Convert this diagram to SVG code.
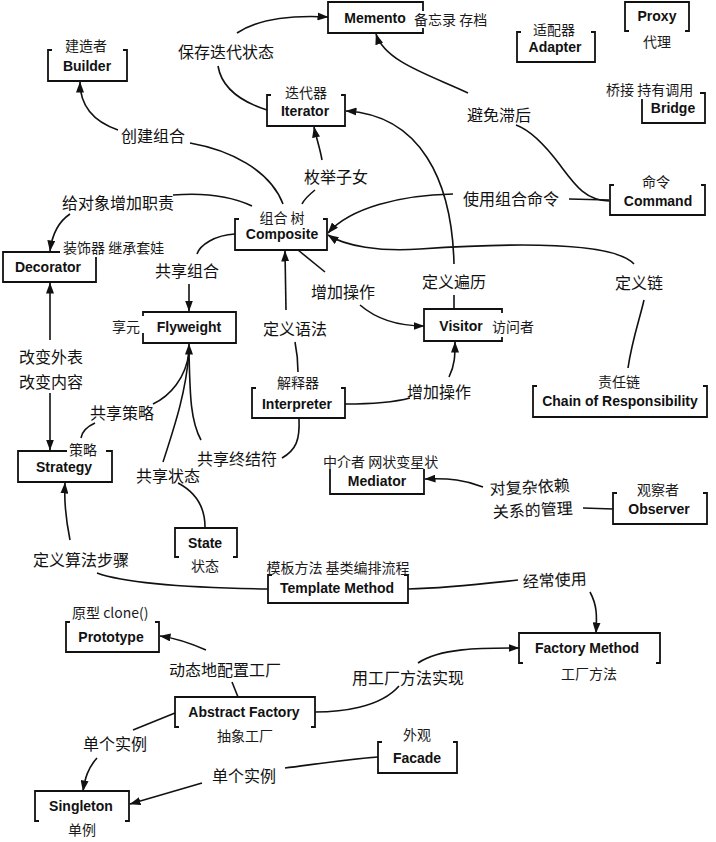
<svg xmlns="http://www.w3.org/2000/svg" width="716" height="842" viewBox="0 0 716 842">
<defs>
<style>
.box{fill:none;stroke:#111;stroke-width:1.8;stroke-linejoin:miter}
.en{font-family:'Liberation Sans',Arial,sans-serif;font-weight:bold;font-size:14px;fill:#111;text-anchor:middle}
.zh{font-family:'Noto Sans CJK SC',sans-serif;font-size:14px;fill:#1a1a1a;text-anchor:middle}
.zs{text-anchor:start}
.lb{font-family:'Noto Sans CJK SC',sans-serif;font-size:16px;fill:#111;text-anchor:middle}
.ln{fill:none;stroke:#111;stroke-width:1.6}
.ar{marker-end:url(#arr)}
</style>
<marker id="arr" markerWidth="11" markerHeight="8" refX="10.5" refY="4" orient="auto" markerUnits="userSpaceOnUse"><path d="M0,0 L11,4 L0,8 z" fill="#111"/></marker>
</defs>
<rect width="716" height="842" fill="#fff"/>

<g id="connectors">
<path class="ln" d="M218,66 C222,90 245,103 267,110"/>
<path class="ln ar" d="M237,33 C258,19 290,15 328,17"/>
<path class="ln" d="M609,201 C585,200 575,185 560,165 C545,145 530,130 516,125"/>
<path class="ln ar" d="M468,93 C430,75 385,62 376,34"/>
<path class="ln" d="M283,204 C270,170 230,150 190,143"/>
<path class="ln ar" d="M118,130 C92,121 80,105 80,82"/>
<path class="ln" d="M302,204 C305,198 310,194 315,190"/>
<path class="ln ar" d="M322,160 C320,148 316,137 314,127"/>
<path class="ln" d="M173,195 C210,192 235,198 252,206"/>
<path class="ln ar" d="M70,214 C58,222 52,235 50,251"/>
<path class="ln" d="M569,199 L609,200"/>
<path class="ln ar" d="M453,194 C400,195 350,208 328,233"/>
<path class="ln" d="M628,368 C632,340 640,318 644,300"/>
<path class="ln ar" d="M634,264 C610,238 480,245 420,249 C380,252 345,246 328,235"/>
<path class="ln" d="M298,250 L325,272"/>
<path class="ln ar" d="M360,305 C375,318 395,326 424,326"/>
<path class="ln" d="M454,309 L454,295"/>
<path class="ln ar" d="M454,264 C452,180 420,115 346,111"/>
<path class="ln" d="M298,372 C298,362 297,352 295,342"/>
<path class="ln ar" d="M286,310 L285,251"/>
<path class="ln" d="M345,404 C370,404 395,402 410,398"/>
<path class="ln ar" d="M449,377 C455,365 455,355 455,342"/>
<path class="ln ar" d="M50,340 L50,283"/>
<path class="ln ar" d="M50,393 L50,450"/>
<path class="ln" d="M235,234 C215,235 200,245 197,254"/>
<path class="ln ar" d="M189,284 L189,311"/>
<path class="ln" d="M189,352 C186,378 170,396 153,404"/>
<path class="ln" d="M189,352 C186,392 175,425 163,462"/>
<path class="ln" d="M189,352 C190,392 190,420 201,440"/>
<path class="ln ar" d="M189,354 L189,344"/>
<path class="ln" d="M95,423 C86,427 82,432 81,438"/>
<path class="ln" d="M178,483 C195,492 205,505 205,527"/>
<path class="ln" d="M282,458 C296,450 300,440 299,419"/>
<path class="ln" d="M613,509 L583,508"/>
<path class="ln ar" d="M483,487 C465,480 450,478 425,479"/>
<path class="ln" d="M268,589 C200,588 130,585 97,573"/>
<path class="ln ar" d="M70,540 C66,520 64,500 65,483"/>
<path class="ln" d="M408,589 C450,588 490,583 518,580"/>
<path class="ln ar" d="M590,592 C597,605 597,615 596,633"/>
<path class="ln" d="M238,697 L232,682"/>
<path class="ln ar" d="M206,650 C190,643 175,638 160,636"/>
<path class="ln" d="M315,712 C340,712 380,708 399,686"/>
<path class="ln ar" d="M418,663 C440,648 480,648 519,648"/>
<path class="ln" d="M175,713 L133,730"/>
<path class="ln ar" d="M97,758 C88,768 85,778 83,791"/>
<path class="ln" d="M378,757 C340,760 310,765 285,768"/>
<path class="ln ar" d="M202,783 L130,804"/>

<text class="lb" x="226" y="58">保存迭代状态</text>
<text class="lb" x="153" y="142">创建组合</text>
<text class="lb" x="336" y="183">枚举子女</text>
<text class="lb" x="118" y="209">给对象增加职责</text>
<text class="lb" x="499" y="121">避免滞后</text>
<text class="lb" x="511" y="205">使用组合命令</text>
<text class="lb" x="187" y="277">共享组合</text>
<text class="lb" x="343" y="298">增加操作</text>
<text class="lb" x="454" y="288">定义遍历</text>
<text class="lb" x="639" y="289">定义链</text>
<text class="lb" x="295" y="335">定义语法</text>
<text class="lb" x="51" y="363">改变外表</text>
<text class="lb" x="51" y="388">改变内容</text>
<text class="lb" x="439" y="398">增加操作</text>
<text class="lb" x="122" y="419">共享策略</text>
<text class="lb" x="237" y="465">共享终结符</text>
<text class="lb" x="168" y="482">共享状态</text>
<text class="lb" x="530" y="493" transform="rotate(-3 530 493)">对复杂依赖</text>
<text class="lb" x="533" y="516" transform="rotate(-3 533 516)">关系的管理</text>
<text class="lb" x="81" y="566">定义算法步骤</text>
<text class="lb" x="555" y="586" transform="rotate(-3 555 586)">经常使用</text>
<text class="lb" x="225" y="676">动态地配置工厂</text>
<text class="lb" x="408" y="684">用工厂方法实现</text>
<text class="lb" x="115" y="750">单个实例</text>
<text class="lb" x="244" y="782">单个实例</text>
</g>

<g id="memento"><path class="box" d="M423,11 L423,2 L328,2 L328,33 L423,33 L423,28"/><text class="en" x="375" y="23">Memento</text><text class="zh zs" x="414" y="25">备忘录 存档</text></g>
<g id="proxy"><path class="box" d="M629,31 L625,31 L625,2 L689,2 L689,31 L685,31"/><text class="en" x="657" y="21">Proxy</text><text class="zh" x="657" y="47">代理</text></g>
<g id="adapter"><path class="box" d="M521,32 L517,32 L517,62 L595,62 L595,32 L591,32"/><text class="en" x="555" y="52">Adapter</text><text class="zh" x="554" y="35">适配器</text></g>
<g id="bridge"><path class="box" d="M700,93 L705,93 L705,123 L642,123 L642,99"/><text class="en" x="673" y="113">Bridge</text><text class="zh zs" x="606" y="95">桥接 持有调用</text></g>
<g id="command"><path class="box" d="M614,185 L610,185 L610,215 L705,215 L705,185 L701,185"/><text class="en" x="658" y="206">Command</text><text class="zh" x="656" y="187">命令</text></g>
<g id="builder"><path class="box" d="M52,50 L48,50 L48,81 L127,81 L127,50 L123,50"/><text class="en" x="87" y="71">Builder</text><text class="zh" x="86" y="51">建造者</text></g>
<g id="iterator"><path class="box" d="M271,95 L267,95 L267,126 L345,126 L345,95 L341,95"/><text class="en" x="305" y="116">Iterator</text><text class="zh" x="306" y="98">迭代器</text></g>
<g id="composite"><path class="box" d="M239,219 L235,219 L235,250 L327,250 L327,219 L323,219"/><text class="en" x="282" y="239">Composite</text><text class="zh" x="282" y="223">组合 树</text></g>
<g id="decorator"><path class="box" d="M60,252 L3,252 L3,282 L96,282 L96,257"/><text class="en" x="48" y="272">Decorator</text><text class="zh zs" x="63" y="253">装饰器 继承套娃</text></g>
<g id="flyweight"><path class="box" d="M143,316 L143,312 L236,312 L236,343 L143,343 L143,333"/><text class="en" x="189" y="332">Flyweight</text><text class="zh" x="126" y="332">享元</text></g>
<g id="interpreter"><path class="box" d="M256,388 L252,388 L252,418 L345,418 L345,388 L341,388"/><text class="en" x="297" y="409">Interpreter</text><text class="zh" x="298" y="388">解释器</text></g>
<g id="visitor"><path class="box" d="M502,313 L502,309 L424,309 L424,341 L502,341 L502,337"/><text class="en" x="461" y="331">Visitor</text><text class="zh" x="513" y="332">访问者</text></g>
<g id="chain"><path class="box" d="M537,386 L533,386 L533,417 L707,417 L707,386 L703,386"/><text class="en" x="620" y="406">Chain of Responsibility</text><text class="zh" x="619" y="387">责任链</text></g>
<g id="strategy"><path class="box" d="M67,451 L18,451 L18,482 L112,482 L112,451 L106,451"/><text class="en" x="64" y="472">Strategy</text><text class="zh" x="83" y="455">策略</text></g>
<g id="state"><path class="box" d="M179,557 L175,557 L175,528 L237,528 L237,557 L233,557"/><text class="en" x="205" y="548">State</text><text class="zh" x="205" y="571">状态</text></g>
<g id="mediator"><path class="box" d="M330,469 L330,494 L424,494 L424,469"/><text class="en" x="377" y="486">Mediator</text><text class="zh zs" x="323" y="467">中介者 网状变星状</text></g>
<g id="observer"><path class="box" d="M617,493 L613,493 L613,524 L707,524 L707,493 L703,493"/><text class="en" x="659" y="514">Observer</text><text class="zh" x="658" y="495">观察者</text></g>
<g id="template"><path class="box" d="M272,575 L268,575 L268,603 L408,603 L408,575 L404,575"/><text class="en" x="337" y="593">Template Method</text><text class="zh" x="338" y="573">模板方法 基类编排流程</text></g>
<g id="prototype"><path class="box" d="M70,622 L66,622 L66,652 L159,652 L159,622 L155,622"/><text class="en" x="111" y="642">Prototype</text><text class="zh zs" x="72" y="618">原型 clone()</text></g>
<g id="abstractfactory"><path class="box" d="M179,727 L175,727 L175,697 L315,697 L315,727 L311,727"/><text class="en" x="244" y="717">Abstract Factory</text><text class="zh" x="245" y="741">抽象工厂</text></g>
<g id="singleton"><path class="box" d="M39,821 L35,821 L35,791 L129,791 L129,821 L125,821"/><text class="en" x="81" y="811">Singleton</text><text class="zh" x="82" y="835">单例</text></g>
<g id="factorymethod"><path class="box" d="M523,663 L519,663 L519,633 L660,633 L660,663 L656,663"/><text class="en" x="587" y="653">Factory Method</text><text class="zh" x="589" y="679">工厂方法</text></g>
<g id="facade"><path class="box" d="M382,742 L378,742 L378,773 L457,773 L457,742 L453,742"/><text class="en" x="417" y="763">Facade</text><text class="zh" x="417" y="740">外观</text></g>
</svg>
